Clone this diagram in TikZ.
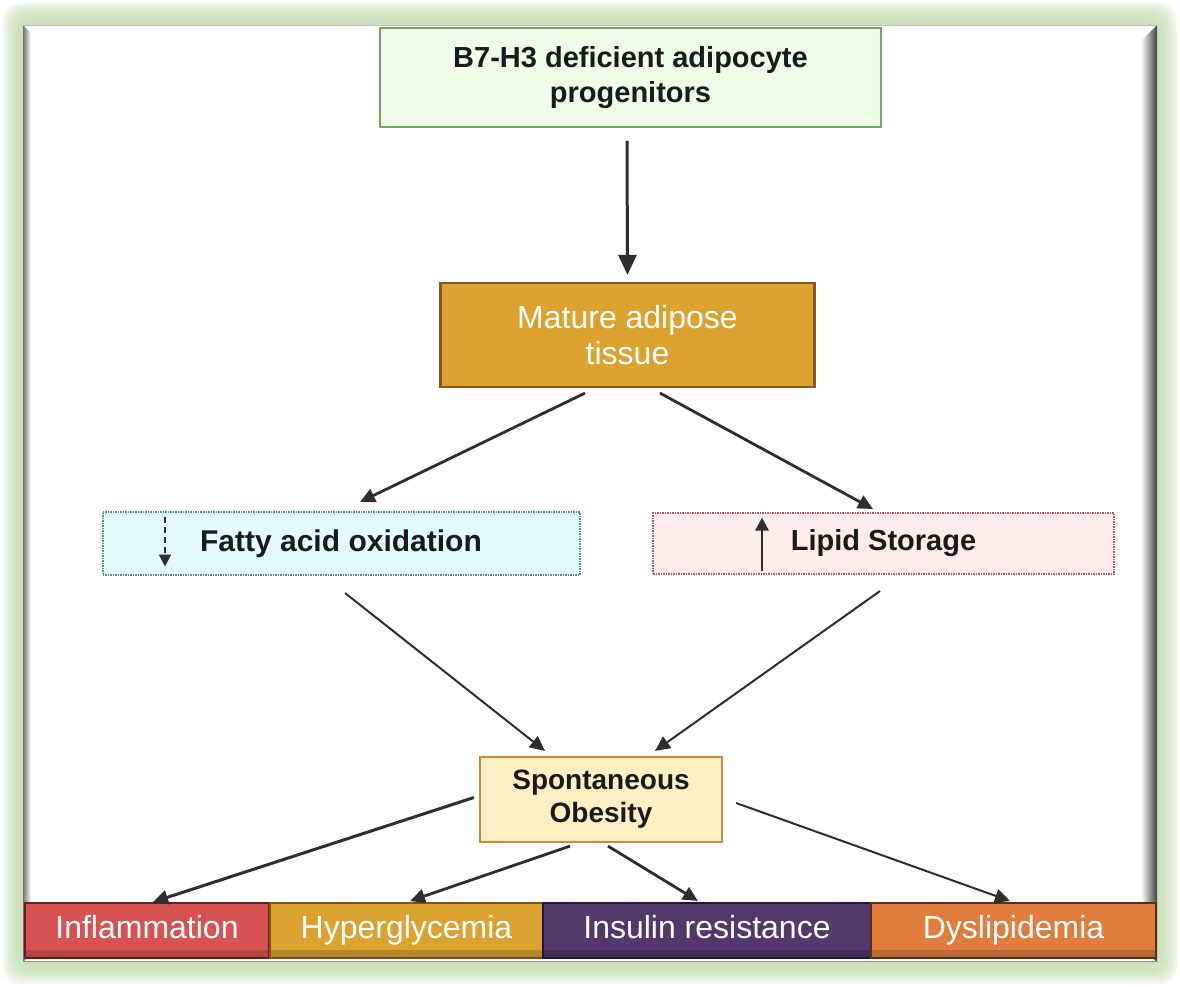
\documentclass[tikz,border=0pt]{standalone}
\usepackage{fontspec}
\setmainfont{Liberation Sans}
\usetikzlibrary{arrows.meta,calc}
\definecolor{glow}{HTML}{C6DFB2}
\definecolor{topfill}{HTML}{EEFCE8}
\definecolor{topdraw}{HTML}{70A85A}
\definecolor{matfill}{HTML}{DBA22F}
\definecolor{matdraw}{HTML}{8A561C}
\definecolor{faofill}{HTML}{E2FCFE}
\definecolor{faodraw}{HTML}{4C8FA0}
\definecolor{lipfill}{HTML}{FEEBEB}
\definecolor{lipdraw}{HTML}{C8505A}
\definecolor{obsfill}{HTML}{FDEFC3}
\definecolor{obsdraw}{HTML}{C88A3A}
\definecolor{inffill}{HTML}{D75352}
\definecolor{infdraw}{HTML}{6E1D1D}
\definecolor{hypfill}{HTML}{DCA22F}
\definecolor{hypdraw}{HTML}{7D5817}
\definecolor{insfill}{HTML}{52386B}
\definecolor{insdraw}{HTML}{231533}
\definecolor{dysfill}{HTML}{E07D3C}
\definecolor{dysdraw}{HTML}{5C2F12}
\definecolor{arrowgray}{HTML}{2E2E2E}
\definecolor{txt}{HTML}{1A1A1A}
\begin{document}
\begin{tikzpicture}[x=1pt,y=-1pt,
  box/.style={rectangle, inner sep=0pt, align=center},
  darktext/.style={text=txt, font=\bfseries},
  bottombox/.style={box, line width=2pt, minimum height=55pt, text=white, font=\fontsize{32}{36}\selectfont, text height=23pt, text depth=7pt},
  arr/.style={draw=arrowgray, line width=2.8pt, -{Triangle[length=15pt,width=14pt]}},
  thinarr/.style={draw=arrowgray, line width=2pt, -{Triangle[length=15pt,width=14pt]}},
  bevel/.style={black, opacity=0.16}
]
\useasboundingbox (0,0) rectangle (1180,986);
\fill[white] (0,0) rectangle (1180,986);
% glow frame
\foreach \i in {0,...,7} {
  \fill[glow, opacity=0.22, rounded corners=18pt] ({3+\i*2.5},{3+\i*2.5}) rectangle ({1177-\i*2.5},{984-\i*2.5});
}
% panel
\fill[white] (23,25) rectangle (1157,962);
\shade[left color=black!55, right color=white] (23,25) -- (31,33) -- (31,954) -- (23,962) -- cycle;
\shade[left color=white, right color=black!75] (1141,41) -- (1157,25) -- (1157,962) -- (1141,948) -- cycle;
\draw[black!25, line width=1pt] (23,25.5) -- (1157,25.5);
\draw[black!45, line width=1.5pt] (23,961.5) -- (1157,961.5);

% nodes
\node[box, draw=topdraw, fill=topfill, line width=1.8pt, minimum width=501pt, minimum height=99pt,
  darktext, font=\bfseries\fontsize{29}{35}\selectfont] (top) at (630.5,77.5)
  {B7-H3 deficient adipocyte\\progenitors};
\node[box, draw=matdraw, fill=matfill, line width=2.2pt, minimum width=374pt, minimum height=104pt,
  text=white, font=\fontsize{32}{36}\selectfont] (mature) at (627.5,335)
  {Mature adipose\\tissue};
\node[box, draw=faodraw, fill=faofill, line width=2pt, dash pattern=on 1.5pt off 1pt,
  minimum width=477pt, minimum height=63pt, darktext, font=\bfseries\fontsize{30}{36}\selectfont] (fao) at (341,543.5)
  {Fatty acid oxidation};
\node[box, draw=lipdraw, fill=lipfill, line width=2pt, dash pattern=on 1.5pt off 1pt,
  minimum width=461pt, minimum height=61pt, darktext, font=\bfseries\fontsize{29}{36}\selectfont] (lipid) at (883.5,543.5)
  {Lipid Storage};
\node[box, draw=obsdraw, fill=obsfill, line width=2.2pt, minimum width=242pt, minimum height=85pt,
  darktext, font=\bfseries\fontsize{28}{33}\selectfont] (obesity) at (601,799.5)
  {Spontaneous\\Obesity};

\node[bottombox, draw=infdraw, fill=inffill, minimum width=244pt] (infl) at (147,930.5) {Inflammation};
\node[bottombox, draw=hypdraw, fill=hypfill, minimum width=273pt] (hyper) at (406.5,930.5) {Hyperglycemia};
\node[bottombox, draw=insdraw, fill=insfill, minimum width=328pt] (insulin) at (707,930.5) {Insulin resistance};
\node[bottombox, draw=dysdraw, fill=dysfill, minimum width=285pt] (dys) at (1013.5,930.5) {Dyslipidemia};
\foreach \b in {infl,hyper,insulin,dys} {
  \fill[bevel] ($(\b.south west)+(2,-9)$) rectangle ($(\b.south east)+(-2,-1)$);
}

% arrows inside boxes
\draw[draw=arrowgray, line width=2pt, dash pattern=on 6pt off 4pt, -{Triangle[length=12pt,width=12pt]}]
  ($(fao.west)+(63.5,-27)$) -- ($(fao.west)+(63.5,23)$);
\draw[draw=arrowgray, line width=2.5pt, -{Triangle[length=13pt,width=13pt]}]
  ($(lipid.west)+(110,27)$) -- ($(lipid.west)+(110,-26)$);

% connectors
\draw[draw=arrowgray, line width=3pt, -{Triangle[length=20pt,width=18pt]}]
  ($(top.south)+(-3.5,13)$) -- ($(mature.north)+(0,-7)$);
\draw[arr] ($(mature.south)+(-42.5,5)$) -- ($(fao.north)+(19,-9)$);
\draw[arr] ($(mature.south)+(32.5,5)$) -- ($(lipid.north)+(-10.5,-3)$);
\draw[thinarr] ($(fao.south)+(4,17)$) -- ($(obesity.north)+(-56,-5)$);
\draw[thinarr] ($(lipid.south)+(-3.5,16)$) -- ($(obesity.north)+(54,-5)$);
\draw[arr, line width=3pt] ($(obesity.west)+(-5,-2)$) -- ($(infl.north)+(6,0)$);
\draw[arr] ($(obesity.south)+(-31,3)$) -- ($(hyper.north)+(3.5,-1)$);
\draw[arr] ($(obesity.south)+(7,3)$) -- ($(insulin.north)+(-9,-1)$);
\draw[thinarr] ($(obesity.east)+(13,3.5)$) -- ($(dys.north)+(-3.5,-1)$);
\end{tikzpicture}
\end{document}
